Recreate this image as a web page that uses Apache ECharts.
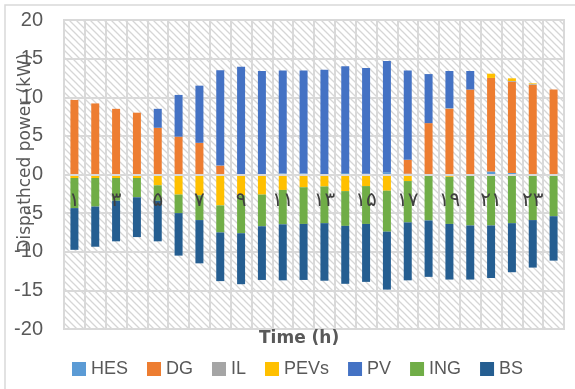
<!DOCTYPE html>
<html>
<head>
<meta charset="utf-8">
<script src="https://cdn.jsdelivr.net/npm/echarts@6/dist/echarts.min.js"></script>
<style>
html,body{margin:0;padding:0;background:#fff;}
#chart{width:575px;height:389px;}
</style>
</head>
<body>
<div id="chart"></div>
<script>
// Categories (hours, Persian digits)
var hours = ['۱','۲','۳','۴','۵','۶','۷','۸','۹','۱۰','۱۱','۱۲','۱۳','۱۴','۱۵','۱۶','۱۷','۱۸','۱۹','۲۰','۲۱','۲۲','۲۳','۲۴'];
var seriesNames = ['HES','DG','IL','PEVs','PV','ING','BS'];
var yTicks = [-20,-15,-10,-5,0,5,10,15,20];

var HES  = [0,0,0,0,0,0,0,0,0,0,0.15,0.15,0,0.2,0.1,0.3,0.1,0,0,0,0.4,0.2,0,0];
var DG   = [9.65,9.2,8.5,8.0,6.05,4.9,4.1,1.15,0,0,0,0,0,0,0,0,1.8,6.65,8.5,11.0,12.1,11.8,11.6,11.0];
var IL   = [0,0,0,0,0,0,0,0,0,0,0,0,0,0,0,0,0,0,0.1,0,0,0.1,0.1,0];
var PEVs = [-0.45,-0.45,-0.45,-0.45,-1.4,-2.6,-2.7,-4.0,-2.7,-2.6,-2.0,-1.65,-1.55,-2.15,-1.5,-2.1,-0.85,0,-0.3,0,0.55,0.35,0.1,0];
var PV   = [0,0,0,0,2.45,5.4,7.4,12.35,13.95,13.4,13.3,13.3,13.55,13.8,13.7,14.4,11.55,6.35,4.8,2.4,0,0,0,0];
var ING  = [-3.9,-3.7,-2.95,-2.5,-2.0,-2.4,-3.2,-3.5,-4.9,-4.1,-4.45,-4.75,-4.75,-4.5,-4.9,-5.3,-5.35,-5.95,-6.1,-6.6,-6.6,-6.3,-5.9,-5.4];
var BS   = [-5.4,-5.2,-5.25,-5.15,-5.25,-5.5,-5.6,-6.3,-6.6,-6.95,-7.25,-7.25,-7.45,-7.5,-7.5,-7.5,-7.5,-7.3,-7.2,-7.0,-6.8,-6.35,-6.15,-5.75];

var colors = ['#5B9BD5','#ED7D31','#A5A5A5','#FFC000','#4472C4','#70AD47','#255E91'];
var dataSets = [HES, DG, IL, PEVs, PV, ING, BS];

// hatched background pattern
var tile = document.createElement('canvas');
var s = 7;
tile.width = s; tile.height = s;
var c = tile.getContext('2d');
c.fillStyle = '#ffffff';
c.fillRect(0,0,s,s);
c.strokeStyle = '#d6d6d6';
c.lineWidth = 1.3;
c.beginPath();
c.moveTo(-1,-1); c.lineTo(s+1,s+1);
c.moveTo(-1,s-1); c.lineTo(1,s+1);
c.moveTo(s-1,-1); c.lineTo(s+1,1);
c.stroke();

var chart = echarts.init(document.getElementById('chart'), null, {renderer:'canvas'});
var latin = 'Liberation Sans';

var gridTop = 20, gridBottom = 60, chartH = 389;
var plotH = chartH - gridTop - gridBottom;
// shift the category axis from the bottom edge up to the y = 0 line
var zeroOffset = -plotH * (0 - yTicks[0]) / (yTicks[yTicks.length-1] - yTicks[0]);

var series = seriesNames.map(function(n, k){
  return {
    name: n,
    type: 'bar',
    stack: 'total',
    barWidth: 8,
    data: dataSets[k],
    itemStyle: {color: colors[k]},
    emphasis: {disabled: true}
  };
});

chart.setOption({
  animation: false,
  color: colors,
  title: {
    text: 'Time (h)',
    left: 259,
    top: 330,
    padding: 0,
    textStyle: {fontFamily: 'DejaVu Sans', fontSize: 17, fontWeight: 'bold', color: '#595959'}
  },
  graphic: [{
    type: 'rect',
    shape: {x: 5, y: 5, width: 620, height: 420},
    style: {fill: 'none', stroke: '#d9d9d9', lineWidth: 1.5},
    silent: true,
    z: -10
  }, {
    type: 'text',
    x: 26,
    y: 153,
    rotation: Math.PI / 2,
    silent: true,
    z: 10,
    style: {
      text: 'Dispathced power (kW)',
      fontFamily: 'DejaVu Sans',
      fontSize: 17,
      fill: '#595959',
      align: 'center',
      verticalAlign: 'middle'
    }
  }],
  legend: {
    data: seriesNames,
    left: 72,
    top: 360,
    padding: 0,
    itemGap: 19,
    itemWidth: 14,
    itemHeight: 14,
    icon: 'rect',
    textStyle: {fontFamily: latin, fontSize: 18, color: '#595959'}
  },
  grid: {
    left: 64, right: 11, top: gridTop, bottom: gridBottom,
    show: true,
    backgroundColor: {image: tile, repeat: 'repeat'},
    borderColor: '#d9d9d9',
    borderWidth: 2
  },
  xAxis: {
    type: 'category',
    data: hours,
    z: 3,
    offset: zeroOffset,
    axisLine: {onZero: false, lineStyle: {color: '#d9d9d9', width: 2}},
    axisTick: {show: false},
    splitLine: {show: true, interval: 0, lineStyle: {color: '#d9d9d9', width: 2}},
    axisLabel: {
      interval: 1,
      margin: 16,
      fontFamily: 'DejaVu Sans',
      fontSize: 20,
      color: '#404040'
    }
  },
  yAxis: {
    type: 'value',
    min: yTicks[0],
    max: yTicks[yTicks.length-1],
    interval: 5,
    axisLine: {show: false},
    axisTick: {show: false},
    splitLine: {show: true, lineStyle: {color: '#d9d9d9', width: 2}},
    axisLabel: {margin: 21, fontFamily: latin, fontSize: 20, color: '#595959'}
  },
  series: series
});
</script>
</body>
</html>
